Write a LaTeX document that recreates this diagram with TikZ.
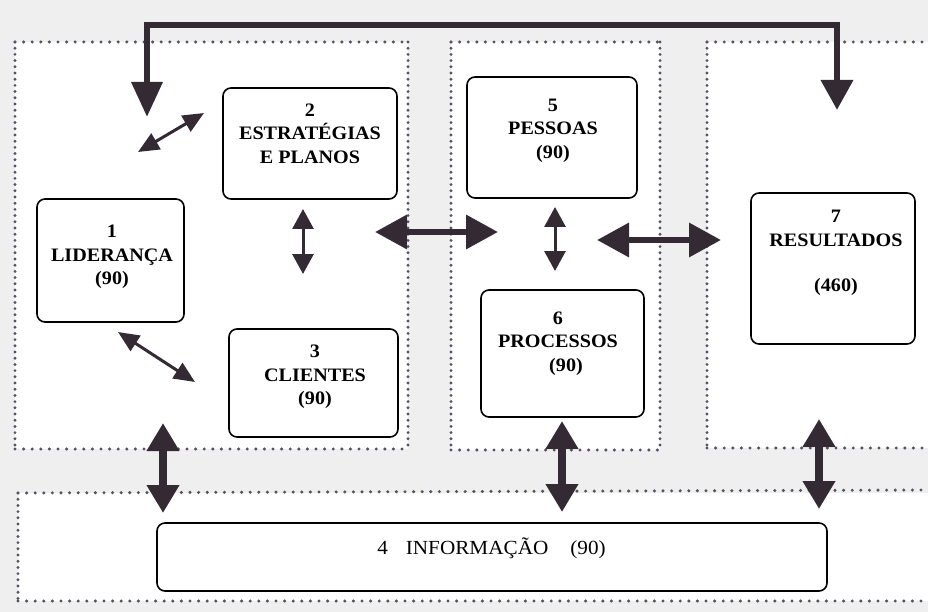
\documentclass[tikz,border=0pt]{standalone}
\usepackage{fontspec}
\setmainfont{Liberation Serif}[FakeStretch=1.06]
\usetikzlibrary{arrows.meta}
\definecolor{arr}{HTML}{342A34}
\definecolor{dotc}{HTML}{5A5064}
\definecolor{bgc}{HTML}{EFEFEF}
\tikzset{
  box/.style={draw, line width=1.6pt, rounded corners=8pt, fill=white, inner sep=0pt},
  boxtext/.style={align=center, inner sep=0pt, font=\bfseries\fontsize{19}{23.5}\selectfont},
  hdots/.style={draw=dotc, line width=3.4pt, line cap=round, dash pattern=on 0pt off 8.6pt},
  vdots/.style={draw=dotc, line width=3.2pt, line cap=round, dash pattern=on 0pt off 6.2pt},
  bigdbl/.style={draw=arr, line width=8pt, {Triangle[length=28pt,width=31pt]}-{Triangle[length=28pt,width=31pt]}},
  hdbl/.style={draw=arr, line width=6.5pt, {Triangle[length=32pt,width=33pt]}-{Triangle[length=32pt,width=33pt]}},
  smalldbl/.style={draw=arr, line width=3pt, {Triangle[length=20pt,width=21pt]}-{Triangle[length=20pt,width=21pt]}},
  diagdbl/.style={draw=arr, line width=3pt, {Triangle[length=21pt,width=18pt]}-{Triangle[length=21pt,width=18pt]}},
  topconn/.style={draw=arr, line width=6.5pt, line join=miter, {Triangle[length=35pt,width=30pt]}-{Triangle[length=30pt,width=31pt]}}
}
\begin{document}
\begin{tikzpicture}[x=1pt,y=-1pt]
\useasboundingbox (0,0) rectangle (928,612);
\fill[bgc] (0,0) rectangle (928,612);
% region interiors
\fill[white] (15,42) rectangle (408,449);
\fill[white] (451,42) rectangle (660,450);
\fill[white] (707,42) rectangle (928,448);
\fill[white] (18,493) rectangle (928,601);
% region A
\draw[hdots] (15,42) -- (408,42);
\draw[hdots] (15,449) -- (408,449);
\draw[vdots] (15,42) -- (15,449);
\draw[vdots] (408,42) -- (408,449);
% region B
\draw[hdots] (451,42) -- (660,42);
\draw[hdots] (451,450) -- (660,450);
\draw[vdots] (451,42) -- (451,450);
\draw[vdots] (660,42) -- (660,450);
% region C
\draw[hdots] (707,42) -- (928,42);
\draw[hdots] (707,448) -- (928,448);
\draw[vdots] (707,42) -- (707,448);
% region D
\draw[hdots] (18,493) -- (928,490);
\draw[hdots] (18,601) -- (928,601);
\draw[vdots] (18,493) -- (18,601);
% boxes
\node[box, minimum width=147pt, minimum height=123pt] (b1) at (110.5,260.5) {};
\node[box, minimum width=174pt, minimum height=111pt] (b2) at (310,143.5) {};
\node[box, minimum width=169pt, minimum height=108pt] (b3) at (313.5,383) {};
\node[box, minimum width=670pt, minimum height=68pt] (b4) at (492,557) {};
\node[box, minimum width=170pt, minimum height=121pt] (b5) at (552,137.5) {};
\node[box, minimum width=163pt, minimum height=127pt] (b6) at (562.5,353.5) {};
\node[box, minimum width=164pt, minimum height=151pt] (b7) at (833,268.5) {};
% texts
\node[boxtext] (t1) at (112,257) {1\\LIDERANÇA\\(90)};
\node[boxtext] (t2) at (310,133.5) {2\\ESTRATÉGIAS\\E PLANOS};
\node[boxtext] (t3) at (315,377) {3\\CLIENTES\\(90)};
\node[boxtext] (t5) at (553,130.5) {5\\PESSOAS\\(90)};
\node[boxtext] (t6) at (558,343.5) {6\\PROCESSOS\\\hspace*{16pt}(90)};
\node[boxtext] (t7) at (836,253) {7\\RESULTADOS\\[22pt](460)};
\node[inner sep=0pt, font=\fontsize{20}{24}\selectfont] (t4) at (491.5,548) {4\hspace{18pt}INFORMAÇÃO\hspace{22pt}(90)};
% connector end points
\coordinate (cL) at (147,117);
\coordinate (cLt) at (147,25);
\coordinate (cRt) at (837,25);
\coordinate (cR) at (837,110);
\coordinate (d1a) at (138,152); \coordinate (d1b) at (204,113);
\coordinate (d2a) at (118,332); \coordinate (d2b) at (195,382);
\coordinate (v23a) at (303,209); \coordinate (v23b) at (303,274);
\coordinate (v56a) at (555,207); \coordinate (v56b) at (555,271);
\coordinate (hLa) at (375,232); \coordinate (hLb) at (498,232);
\coordinate (hRa) at (597,240); \coordinate (hRb) at (721,240);
\coordinate (bAa) at (163,423); \coordinate (bAb) at (163,513);
\coordinate (bBa) at (562,421); \coordinate (bBb) at (562,512);
\coordinate (bCa) at (819,419); \coordinate (bCb) at (819,509);
% connectors
\draw[topconn] (cL) -- (cLt) -- (cRt) -- (cR);
\draw[diagdbl] (d1a) -- (d1b);
\draw[diagdbl] (d2a) -- (d2b);
\draw[smalldbl] (v23a) -- (v23b);
\draw[smalldbl] (v56a) -- (v56b);
\draw[hdbl] (hLa) -- (hLb);
\draw[hdbl] (hRa) -- (hRb);
\draw[bigdbl] (bAa) -- (bAb);
\draw[bigdbl] (bBa) -- (bBb);
\draw[bigdbl] (bCa) -- (bCb);
\end{tikzpicture}
\end{document}
